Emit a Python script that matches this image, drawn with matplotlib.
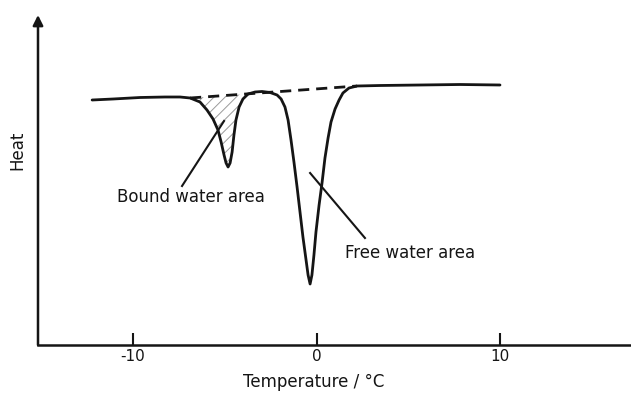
import matplotlib
matplotlib.use("Agg")
import matplotlib.pyplot as plt

# DSC curve (temperature in degC, heat flow in arbitrary units)
temp = [-12.23, -11.09, -9.62, -8.26, -7.44, -6.89, -6.62, -6.35, -5.97, -5.64,
        -5.37, -5.20, -5.04, -4.93, -4.82, -4.71, -4.60, -4.50, -4.39, -4.22,
        -4.01, -3.73, -3.35, -2.97, -2.53, -2.15, -1.93, -1.72, -1.55, -1.39,
        -1.23, -1.06, -0.90, -0.74, -0.57, -0.46, -0.35, -0.25, -0.14, -0.03,
        0.14, 0.30, 0.46, 0.63, 0.79, 1.01, 1.23, 1.44, 1.77, 2.21,
        3.46, 5.64, 7.82, 10.0]
heat = [245, 246, 247.5, 248, 248, 247, 245, 243, 235, 226,
        215, 203, 190, 182, 178, 182, 193, 210, 225, 238,
        246, 251, 253, 253.5, 252.5, 250, 246, 238, 225, 205,
        183, 158, 133, 108, 85, 70, 61, 70, 90, 113,
        140, 162, 187, 207, 223, 236, 245, 252, 257, 259,
        259.5, 260, 260.5, 260]

# dashed baseline end points
base_t = [-6.89, 2.21]
base_h = [247, 259]

# annotation leader lines
bound_line_t = [-7.33, -5.04]
bound_line_h = [159, 224]
free_line_t = [-0.35, 2.64]
free_line_h = [172, 107]

bound_label = "Bound water area"
free_label = "Free water area"
xticks = [-10, 0, 10]
xlabel = "Temperature / \u00b0C"
ylabel = "Heat"

ink = "#151515"
plt.rcParams["hatch.linewidth"] = 0.7
plt.rcParams["hatch.color"] = "#9a9a9a"

fig = plt.figure(figsize=(6.31, 4.0), dpi=100)
ax = fig.add_axes([38 / 631, 55 / 400, 1 - 38 / 631, 330 / 400])
ax.set_xlim(-15.18, 17.14)
ax.set_ylim(0, 330)

# hatched bound-water area: curve between baseline start and rejoin, closed by baseline
i0 = temp.index(-6.89)
i1 = temp.index(-3.73)
poly_t = temp[i0:i1 + 1] + [base_t[0]]
poly_h = heat[i0:i1 + 1] + [base_h[0]]
ax.fill(poly_t, poly_h, facecolor="none", edgecolor="#9a9a9a", hatch="///", linewidth=0)

ax.plot(temp, heat, color=ink, lw=2.0, solid_joinstyle="round", solid_capstyle="round")
ax.plot(base_t, base_h, color=ink, lw=2.0, dashes=(4, 2.5))
ax.plot(bound_line_t, bound_line_h, color=ink, lw=1.5)
ax.plot(free_line_t, free_line_h, color=ink, lw=1.5)

ax.text(-10.87, 148, bound_label, fontsize=12, va="center", ha="left", color=ink,
        family="DejaVu Sans")
ax.text(1.55, 92, free_label, fontsize=12, va="center", ha="left", color=ink,
        family="DejaVu Sans")

for s in ["top", "right", "left"]:
    ax.spines[s].set_visible(False)
ax.spines["bottom"].set_linewidth(1.8)
ax.spines["bottom"].set_color(ink)

# y axis with arrow
ax.annotate("", xy=(0, 1.0), xytext=(0, 0), xycoords="axes fraction",
            arrowprops=dict(arrowstyle="-|>,head_length=0.6,head_width=0.3",
                            color=ink, lw=1.8, shrinkA=0, shrinkB=0))

ax.set_xticks(xticks)
ax.set_xticklabels([str(t) for t in xticks])
ax.tick_params(axis="x", direction="in", length=9, width=1.5, color=ink,
               labelsize=11, pad=3, labelcolor=ink)
ax.set_yticks([])
ax.set_xlabel(xlabel, fontsize=12, color=ink)
ax.set_ylabel(ylabel, fontsize=12, color=ink)
ax.xaxis.set_label_coords(0.465, -0.085)
ax.yaxis.set_label_coords(-0.02, 0.59)

fig.savefig("out.png", dpi=100)
